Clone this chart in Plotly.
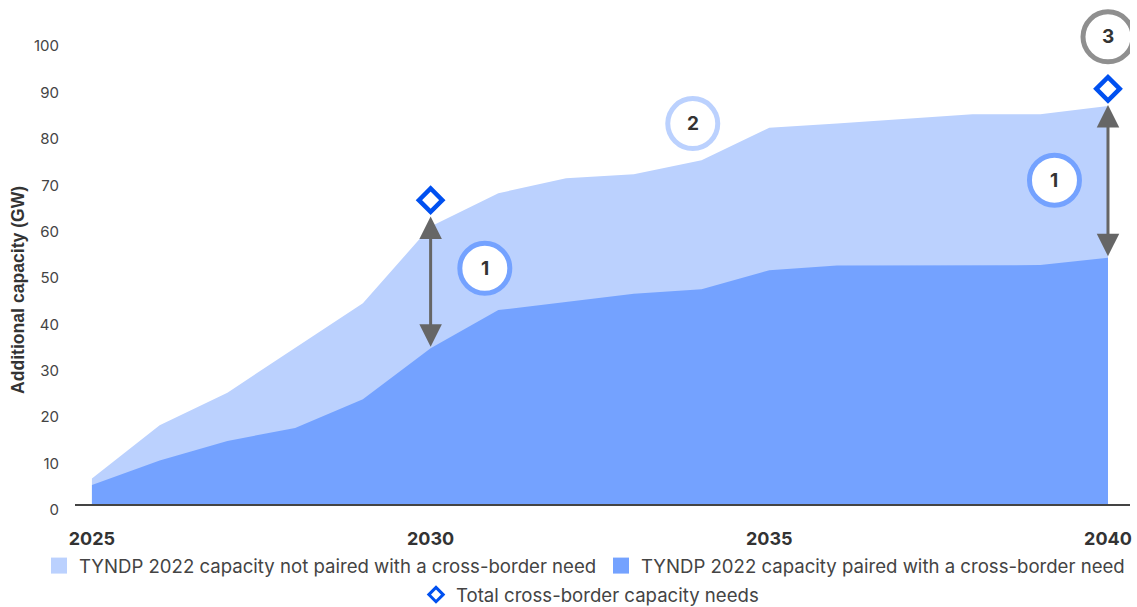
import plotly.graph_objects as go

# Years on the x axis
years = list(range(2025, 2041))

# Total TYNDP 2022 additional capacity (GW) — top of the light area
tyndp_total = [5.5, 17.0, 24.0, 33.6, 43.3, 59.8, 67.0, 70.2, 71.1, 74.1,
               81.1, 82.0, 83.0, 84.0, 84.0, 85.8]

# Portion paired with a cross-border need (GW) — dark area
tyndp_paired = [4.1, 9.4, 13.6, 16.4, 22.6, 33.6, 41.8, 43.5, 45.3, 46.3,
                50.4, 51.4, 51.4, 51.4, 51.5, 53.1]

# Total cross-border capacity needs (GW)
need_years = [2030, 2040]
need_values = [65.5, 89.5]

# Labels for the legend and axes
name_unpaired = "TYNDP 2022 capacity not paired with a cross-border need"
name_paired = "TYNDP 2022 capacity paired with a cross-border need"
name_needs = "Total cross-border capacity needs"
y_title = "Additional capacity (GW)"
x_ticks = [2025, 2030, 2035, 2040]
y_ticks = list(range(0, 101, 10))

LIGHT = "#BBD1FE"
DARK = "#74A2FF"
DIAMOND = "#0050F0"
FONT = "Inter"

fig = go.Figure()

# Areas (light total drawn first, paired area on top)
fig.add_trace(go.Scatter(x=years, y=tyndp_total, mode="lines", fill="tozeroy",
                         fillcolor=LIGHT, line=dict(width=0, color=LIGHT),
                         showlegend=False, hoverinfo="skip"))
fig.add_trace(go.Scatter(x=years, y=tyndp_paired, mode="lines", fill="tozeroy",
                         fillcolor=DARK, line=dict(width=0, color=DARK),
                         showlegend=False, hoverinfo="skip"))

# Needs diamonds on the chart
fig.add_trace(go.Scatter(x=need_years, y=need_values, mode="markers", name=name_needs,
                         marker=dict(symbol="diamond-open", size=18, color=DIAMOND,
                                     line=dict(width=4.5, color=DIAMOND)),
                         cliponaxis=False, showlegend=False))

# Legend entries, each in its own legend box
fig.add_trace(go.Scatter(x=[None], y=[None], mode="markers", name=name_unpaired,
                         marker=dict(symbol="square", size=17, color=LIGHT),
                         legend="legend"))
fig.add_trace(go.Scatter(x=[None], y=[None], mode="markers", name=name_paired,
                         marker=dict(symbol="square", size=17, color=DARK),
                         legend="legend2"))
fig.add_trace(go.Scatter(x=[None], y=[None], mode="markers", name=name_needs,
                         marker=dict(symbol="diamond-open", size=11, color=DIAMOND,
                                     line=dict(width=3, color=DIAMOND)),
                         legend="legend3"))

# Double-headed gap arrows between paired capacity and the needs markers
annotations = []
for yr, need in zip(need_years, need_values):
    paired = tyndp_paired[years.index(yr)]
    annotations.append(dict(x=yr, y=need - 3.5, ax=yr, ay=paired,
                            xref="x", yref="y", axref="x", ayref="y",
                            text="", showarrow=True, arrowside="end+start",
                            arrowhead=2, arrowsize=1.5, arrowwidth=3,
                            arrowcolor="#666666"))

# Numbered callout circles
callouts = [
    ("1", 2030.80, 50.8, "#74A2FF"),
    ("1", 2039.21, 69.8, "#74A2FF"),
    ("2", 2033.87, 82.0, "#BBD1FE"),
    ("3", 2040.00, 100.7, "#8F8F8F"),
]
shapes = []
for label, cx, cy, ring in callouts:
    shapes.append(dict(type="circle", xref="x", yref="y",
                       xsizemode="pixel", ysizemode="pixel",
                       xanchor=cx, yanchor=cy, x0=-25, x1=25, y0=-25, y1=25,
                       line=dict(color=ring, width=5), fillcolor="white",
                       layer="above"))
    annotations.append(dict(x=cx, y=cy, xref="x", yref="y", text=f"<b>{label}</b>",
                            showarrow=False, font=dict(family=FONT, size=19, color="#333333")))

# Plot-area margins in pixels
PL, PR, PT, PB = 75, 7, 3, 103
pw, ph = 1137 - PL - PR, 607 - PT - PB

# Rotated y-axis title, centred at (18, 290) px of the page
annotations.append(dict(x=(18 - PL) / pw, y=(607 - PB - 290) / ph,
                        xref="paper", yref="paper",
                        xanchor="center", yanchor="middle", textangle=-90,
                        text=f"<b>{y_title}</b>", showarrow=False,
                        font=dict(family="Liberation Sans", size=17.6, color="#333333")))

legend_font = dict(family=FONT, size=18.6, color="#444444")
common = dict(orientation="h", xref="container", yref="container",
              xanchor="left", yanchor="middle", font=legend_font, itemclick=False,
              bgcolor="rgba(0,0,0,0)")

fig.update_layout(
    width=1137, height=607,
    margin=dict(l=PL, r=PR, t=PT, b=PB, autoexpand=False),
    paper_bgcolor="white", plot_bgcolor="white",
    font=dict(family=FONT, color="#444444"),
    shapes=shapes,
    annotations=annotations,
    legend=dict(x=39 / 1137, y=1 - 566 / 607, **common),
    legend2=dict(x=601 / 1137, y=1 - 566 / 607, **common),
    legend3=dict(x=416 / 1137, y=1 - 595 / 607, **common),
    xaxis=dict(range=[2024.75, 2040.325], tickvals=x_ticks,
               ticktext=[f"<b>{t}</b>" for t in x_ticks],
               tickfont=dict(family=FONT, size=18, color="#333333"),
               showline=True, linecolor="#444444", linewidth=2,
               showgrid=False, zeroline=False, ticks="", ticklabelstandoff=17,
               automargin=False),
    yaxis=dict(range=[0, 108], tickvals=y_ticks,
               tickfont=dict(family=FONT, size=15, color="#444444"),
               showgrid=False, zeroline=False, showline=False, ticks="",
               ticklabelstandoff=15, ticklabelshift=6, automargin=False),
)

fig.write_html("out.html")
